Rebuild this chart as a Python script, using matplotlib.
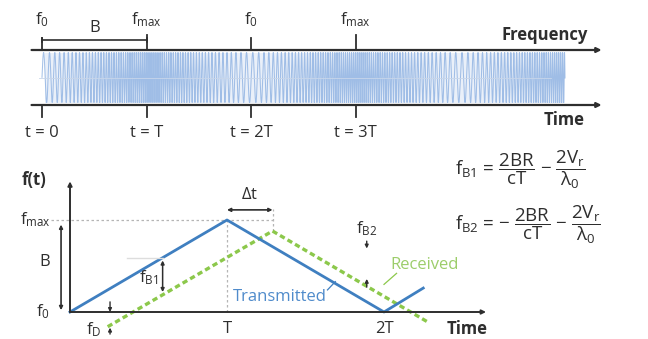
import numpy as np
import matplotlib.pyplot as plt

plt.rcParams['font.family'] = ['Open Sans', 'DejaVu Sans']
plt.rcParams['mathtext.fontset'] = 'custom'
plt.rcParams['mathtext.rm'] = 'Open Sans'
plt.rcParams['mathtext.it'] = 'Open Sans'
plt.rcParams['mathtext.bf'] = 'Open Sans:bold'

# chirp sweep corners (time in T, frequency in cycles per T)
sweep_t = [0, 1, 2, 3, 4, 5]
sweep_f = [16, 55, 16, 55, 16, 55]
top_ticks = [0, 1, 2, 3]
top_tick_labels = ['t = 0', 't = T', 't = 2T', 't = 3T']
freq_marks = [0, 1, 2, 3]
freq_labels = ['f$_0$', 'f$_{max}$', 'f$_0$', 'f$_{max}$']

# triangle ramps (time in T, frequency in B above f0)
tx_t = [0, 1, 2, 2.25]
tx_f = [0, 1, 0, 0.26]
rx_t = [0.24, 1.29, 2.29]
rx_f = [-0.16, 0.88, -0.12]
bottom_ticks = [1, 2]
bottom_tick_labels = ['T', '2T']

ink = '#2e2e2e'
blue = '#3f7fc0'
green = '#8cc84b'
grey = '#b5b5b5'
fs = 12

fig = plt.figure(figsize=(6.48, 3.39), dpi=100)

# ---------- top strip ----------
ax1 = fig.add_axes([0, 0, 1, 1])
ax1.set_xlim(-42 / 104.6, (648 - 42) / 104.6)
ax1.set_ylim((77.5 - 339) / 25, 77.5 / 25)
ax1.axis('off')

t = np.linspace(sweep_t[0], sweep_t[-1], 60000)
inst_f = np.interp(t, sweep_t, sweep_f)
phase = 2 * np.pi * np.cumsum(inst_f) * (t[1] - t[0])
ax1.fill_between([0.03, 5.0], -1.0, 1.0, color='#eaf0f9', lw=0)
ax1.plot(t, np.sin(phase), color='#80a8de', lw=0.75, alpha=0.7)
ax1.axhline(0, color='#c8d6ea', lw=0.6, xmin=0.06, xmax=0.85)

for yy in (1.1, -1.1):
    ax1.annotate('', xy=(5.35, yy), xytext=(-0.1, yy),
                 arrowprops=dict(arrowstyle='-|>', lw=1.6, color=ink,
                                 mutation_scale=7, shrinkA=0, shrinkB=0))

for x, lab in zip(freq_marks, freq_labels):
    top = 1.58 if lab == 'f$_0$' else 1.7
    ax1.plot([x, x], [1.1, top], color=ink, lw=1.3)
    ax1.text(x, 2.3, lab, ha='center', va='center', fontsize=fs, color=ink)

for x, lab in zip(top_ticks, top_tick_labels):
    ax1.plot([x, x], [-1.1, -1.58], color=ink, lw=1.3)
    ax1.text(x, -2.22, lab, ha='center', va='center', fontsize=fs, color=ink)

ax1.plot([0, 1], [1.5, 1.5], color=ink, lw=1.2)
ax1.plot([0, 0], [1.42, 1.58], color=ink, lw=1.2)
ax1.plot([1, 1], [1.42, 1.58], color=ink, lw=1.2)
ax1.text(0.5, 2.0, 'B', ha='center', va='center', fontsize=fs, color=ink)

ax1.text(5.22, 1.7, 'Frequency', ha='right', va='center', fontsize=fs,
         fontweight='bold', color=ink)
ax1.text(5.19, -1.7, 'Time', ha='right', va='center', fontsize=fs,
         fontweight='bold', color=ink)

# ---------- bottom ramps ----------
ax2 = fig.add_axes([0, 0, 1, 1])
ax2.set_xlim(-70 / 157, (648 - 70) / 157)
ax2.set_ylim((312 - 339) / 92, 312 / 92)
ax2.axis('off')
ax2.patch.set_alpha(0)

ax2.annotate('', xy=(0, 1.42), xytext=(0, 0),
             arrowprops=dict(arrowstyle='-|>', lw=1.4, color=ink,
                             mutation_scale=6, shrinkA=0, shrinkB=0))
ax2.annotate('', xy=(2.65, 0), xytext=(0, 0),
             arrowprops=dict(arrowstyle='-|>', lw=1.4, color=ink,
                             mutation_scale=6, shrinkA=0, shrinkB=0))

peak_t = rx_t[1]
ax2.plot([-0.12, peak_t], [1, 1], color=grey, lw=0.9, ls=(0, (2, 2)))
ax2.plot([1, 1], [0, 1], color=grey, lw=0.9, ls=(0, (2, 2)))
ax2.plot([peak_t, peak_t], [rx_f[1], 1.12], color=grey, lw=0.9, ls=(0, (2, 2)))

ax2.plot(rx_t, rx_f, color=green, lw=2.4, ls=(0, (1.6, 1.0)))
ax2.plot(tx_t, tx_f, color=blue, lw=2.0)

ax2.text(-0.15, 1.44, 'f(t)', ha='right', va='center', fontsize=fs,
         fontweight='bold', color=ink)
ax2.text(-0.12, 1.0, 'f$_{max}$', ha='right', va='center', fontsize=fs, color=ink)
ax2.text(-0.13, 0.0, 'f$_0$', ha='right', va='center', fontsize=fs, color=ink)
ax2.text(-0.16, 0.54, 'B', ha='center', va='center', fontsize=fs, color=ink)
ax2.annotate('', xy=(-0.057, 0.95), xytext=(-0.057, 0.02),
             arrowprops=dict(arrowstyle='<|-|>', lw=1.2, color=ink,
                             mutation_scale=5, shrinkA=0, shrinkB=0))

# delta t
ax2.annotate('', xy=(peak_t, 1.11), xytext=(1, 1.11),
             arrowprops=dict(arrowstyle='<|-|>', lw=1.2, color=ink,
                             mutation_scale=5, shrinkA=0, shrinkB=0))
ax2.text((1 + peak_t) / 2, 1.27, r'$\Delta$t', ha='center', va='center',
         fontsize=fs, color=ink)

# beat frequency on the up ramp
b1_t = 0.59
b1_hi = np.interp(b1_t, tx_t[:2], tx_f[:2])
b1_lo = np.interp(b1_t, rx_t[:2], rx_f[:2])
ax2.plot([0.36, b1_t], [b1_hi, b1_hi], color='#dddddd', lw=1.0)
ax2.annotate('', xy=(b1_t, b1_hi - 0.03), xytext=(b1_t, b1_lo + 0.03),
             arrowprops=dict(arrowstyle='<|-|>', lw=1.1, color=ink,
                             mutation_scale=5, shrinkA=0, shrinkB=0))
ax2.text(b1_t - 0.03, (b1_hi + b1_lo) / 2 - 0.02, 'f$_{B1}$', ha='right',
         va='center', fontsize=fs, color=ink)

# doppler offset
d_t = 0.255
ax2.annotate('', xy=(d_t, 0.0), xytext=(d_t, 0.11),
             arrowprops=dict(arrowstyle='-|>', lw=1.0, color=ink,
                             mutation_scale=5, shrinkA=0, shrinkB=0))
ax2.annotate('', xy=(d_t, -0.17), xytext=(d_t, -0.24),
             arrowprops=dict(arrowstyle='-|>', lw=1.0, color=ink,
                             mutation_scale=5, shrinkA=0, shrinkB=0))
ax2.text(0.15, -0.19, 'f$_D$', ha='center', va='center', fontsize=fs, color=ink)

# beat frequency on the down ramp
b2_t = 1.89
ax2.text(b2_t, 0.91, 'f$_{B2}$', ha='center', va='center', fontsize=fs, color=ink)
ax2.annotate('', xy=(b2_t, 0.69), xytext=(b2_t, 0.77),
             arrowprops=dict(arrowstyle='-|>', lw=1.0, color=ink,
                             mutation_scale=5, shrinkA=0, shrinkB=0))
ax2.annotate('', xy=(b2_t, 0.36), xytext=(b2_t, 0.27),
             arrowprops=dict(arrowstyle='-|>', lw=1.0, color=ink,
                             mutation_scale=5, shrinkA=0, shrinkB=0))

ax2.text(2.04, 0.51, 'Received', ha='left', va='center', fontsize=fs,
         color='#9ccd6a')
ax2.plot([2.0, 2.08], [0.3, 0.42], color=green, lw=0.9)
ax2.text(1.04, 0.16, 'Transmitted', ha='left', va='center', fontsize=fs,
         color='#4f8bcb')
ax2.plot([1.64, 1.69], [0.24, 0.33], color=blue, lw=0.9)

for x, lab in zip(bottom_ticks, bottom_tick_labels):
    ax2.text(x, -0.18, lab, ha='center', va='center', fontsize=fs, color=ink)
ax2.text(2.53, -0.18, 'Time', ha='center', va='center', fontsize=fs,
         fontweight='bold', color=ink)

# equations
fig.text(455 / 648, 1 - 170 / 339,
         r'f$_{B1}$ = $\dfrac{2BR}{cT}$ $-$ $\dfrac{2V_r}{\lambda_0}$',
         ha='left', va='center', fontsize=13.5, color=ink)
fig.text(455 / 648, 1 - 225 / 339,
         r'f$_{B2}$ = $-$ $\dfrac{2BR}{cT}$ $-$ $\dfrac{2V_r}{\lambda_0}$',
         ha='left', va='center', fontsize=13.5, color=ink)

fig.savefig('out.png', dpi=100)
